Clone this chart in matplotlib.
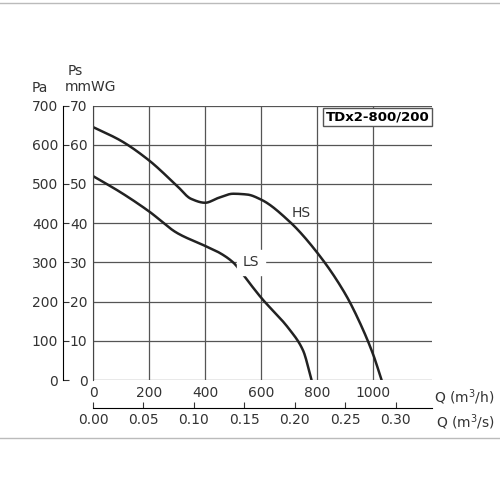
import matplotlib
matplotlib.use("Agg")
import matplotlib.pyplot as plt
import numpy as np

hs_q = [0, 100, 200, 300, 350, 400, 450, 500, 550, 600, 700, 800, 900, 950, 1000, 1030]
hs_pa = [645, 610, 560, 495, 462, 452, 465, 475, 473, 460, 405, 325, 220, 150, 65, 0]
ls_q = [0, 100, 200, 300, 400, 450, 500, 550, 600, 700, 750, 780]
ls_pa = [520, 478, 430, 375, 342, 325, 300, 255, 210, 130, 75, 0]
x_ticks = [0, 200, 400, 600, 800, 1000]
xs_ticks = [0.00, 0.05, 0.10, 0.15, 0.20, 0.25, 0.30]
mm_ticks = [0, 10, 20, 30, 40, 50, 60, 70]
pa_ticks = [0, 100, 200, 300, 400, 500, 600, 700]

def smooth(x, y, n=400):
    x = np.asarray(x, float); y = np.asarray(y, float)
    h = np.diff(x); d = np.diff(y) / h
    m = np.zeros_like(y)
    m[0] = d[0]; m[-1] = d[-1]
    for k in range(1, len(x) - 1):
        if d[k-1] * d[k] <= 0:
            m[k] = 0
        else:
            w1 = 2*h[k] + h[k-1]; w2 = h[k] + 2*h[k-1]
            m[k] = (w1 + w2) / (w1 / d[k-1] + w2 / d[k])
    t = np.linspace(x[0], x[-1], n)
    out = []
    for tt in t:
        i = min(np.searchsorted(x, tt, side='right') - 1, len(x) - 2)
        hh = x[i+1] - x[i]; s = (tt - x[i]) / hh
        h00 = 2*s**3 - 3*s**2 + 1; h10 = s**3 - 2*s**2 + s
        h01 = -2*s**3 + 3*s**2; h11 = s**3 - s**2
        out.append(h00*y[i] + h10*hh*m[i] + h01*y[i+1] + h11*hh*m[i+1])
    return t, np.array(out)

fig = plt.figure(figsize=(5, 5), dpi=100)
ax = fig.add_axes([0.186, 0.24, 0.678, 0.549])
ax.set_xlim(0, 1210)
ax.set_ylim(0, 700)
for s in ['top', 'right', 'bottom']:
    ax.spines[s].set_visible(False)
ax.grid(True, color='#555555', lw=0.9)
ax.set_xticks(x_ticks)
ax.set_yticks(pa_ticks)
ax.set_yticklabels([str(v) for v in mm_ticks])
ax.tick_params(labelsize=10, length=0, pad=4, colors='#333333')
ax.spines['left'].set_color('#444444')

t, y = smooth(hs_q, hs_pa)
ax.plot(t, y, color='#222222', lw=1.8)
t, y = smooth(ls_q, ls_pa)
ax.plot(t, y, color='#222222', lw=1.8)
ax.text(744, 427, 'HS', fontsize=10, color='#333333', ha='center', va='center')
ax.text(563, 300, 'LS', fontsize=10, color='#333333', ha='center', va='center', backgroundcolor='white')
ax.text(1200, 670, 'TDx2-800/200', fontsize=9.5, fontweight='bold', ha='right', va='center',
        bbox=dict(boxstyle='square,pad=0.2', fc='white', ec='#555555', lw=1))

# Pa axis
ax2 = ax.twinx()
ax2.set_ylim(0, 700)
ax2.spines['left'].set_position(('outward', 21.6))
ax2.yaxis.set_ticks_position('left'); ax2.yaxis.set_label_position('left')
for s in ['top', 'right', 'bottom']:
    ax2.spines[s].set_visible(False)
ax2.spines['left'].set_bounds(0, 700)
ax2.set_yticks(pa_ticks)
ax2.tick_params(labelsize=10, length=4, colors='#333333', direction='in')

# m3/s axis
ax3 = ax.twiny()
ax3.set_xlim(0, 1210 / 3600)
ax3.xaxis.set_ticks_position('bottom')
for s in ['top', 'right', 'left']:
    ax3.spines[s].set_visible(False)
ax3.spines['bottom'].set_position(('outward', 20))
ax3.set_xticks(xs_ticks)
ax3.set_xticklabels([f'{v:.2f}' for v in xs_ticks])
ax3.tick_params(labelsize=10, length=4, colors='#333333', direction='in')

fig.text(0.08, 0.824, 'Pa', fontsize=10, color='#333333', ha='center', va='center')
fig.text(0.15, 0.858, 'Ps', fontsize=10, color='#333333', ha='center', va='center')
fig.text(0.18, 0.826, 'mmWG', fontsize=10, color='#333333', ha='center', va='center')
fig.text(0.99, 0.206, 'Q (m$^3$/h)', fontsize=10, color='#333333', ha='right', va='center')
fig.text(0.99, 0.156, 'Q (m$^3$/s)', fontsize=10, color='#333333', ha='right', va='center')
fig.add_artist(plt.Line2D([0, 1], [0.994, 0.994], color='#bbbbbb', lw=1))
fig.add_artist(plt.Line2D([0, 1], [0.125, 0.125], color='#bbbbbb', lw=1))
fig.savefig('out.png', dpi=100)
